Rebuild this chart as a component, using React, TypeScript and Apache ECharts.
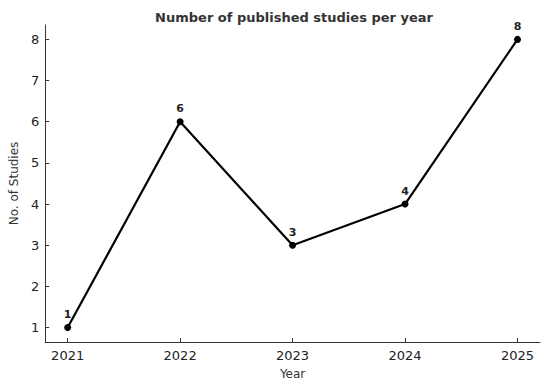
import React, { useEffect, useRef } from "react";
import * as echarts from "echarts";

const years = [2021, 2022, 2023, 2024, 2025];
const studies = [1, 6, 3, 4, 8];
const yTicks = [1, 2, 3, 4, 5, 6, 7, 8];

export default function App() {
  const ref = useRef<HTMLDivElement>(null);
  useEffect(() => {
    const chart = echarts.init(ref.current!, null, { renderer: "svg" });
    const font = "DejaVu Sans";
    chart.setOption({
      animation: false,
      backgroundColor: "#ffffff",
      title: {
        text: "Number of published studies per year",
        left: 289,
        textAlign: "center",
        top: 6,
        textStyle: { fontFamily: font, fontSize: 13, fontWeight: "bold", color: "#333333" },
      },
      grid: { left: 38, right: 10, top: 25, bottom: 37, containLabel: false },
      xAxis: {
        type: "value",
        min: 2020.8,
        max: 2025.2,
        name: "Year",
        nameLocation: "middle",
        nameGap: 26,
        nameTextStyle: { fontFamily: font, fontSize: 12, color: "#333333" },
        splitLine: { show: false },
        axisLine: { lineStyle: { color: "#333333", width: 1 } },
        axisTick: { inside: true, length: 4, customValues: years, lineStyle: { color: "#333333" } },
        axisLabel: {
          customValues: years,
          formatter: (v: number) => String(Math.round(v)),
          fontFamily: font,
          fontSize: 13,
          color: "#222222",
          margin: 7,
        },
      },
      yAxis: {
        type: "value",
        min: 0.65,
        max: 8.35,
        name: "No. of Studies",
        nameLocation: "middle",
        nameGap: 25,
        nameRotate: 90,
        nameTextStyle: { fontFamily: font, fontSize: 12, color: "#333333" },
        splitLine: { show: false },
        axisLine: { show: true, lineStyle: { color: "#333333", width: 1 } },
        axisTick: { show: true, inside: true, length: 4, customValues: yTicks, lineStyle: { color: "#333333" } },
        axisLabel: {
          customValues: yTicks,
          formatter: (v: number) => String(Math.round(v)),
          fontFamily: font,
          fontSize: 13,
          color: "#222222",
          margin: 6,
        },
      },
      series: [
        {
          type: "line",
          data: years.map((y, i) => [y, studies[i]]),
          lineStyle: { color: "#000000", width: 2.2 },
          itemStyle: { color: "#000000" },
          symbol: "circle",
          symbolSize: 7,
          label: {
            show: true,
            position: "top",
            distance: 4,
            formatter: (p: any) => String(p.value[1]),
            fontFamily: font,
            fontSize: 11,
            fontWeight: "bold",
            color: "#222222",
          },
        },
      ],
    });
    return () => chart.dispose();
  }, []);
  return (
    <div
      ref={ref}
      style={{ position: "absolute", left: 0, top: 0, width: 550, height: 385 }}
    />
  );
}
